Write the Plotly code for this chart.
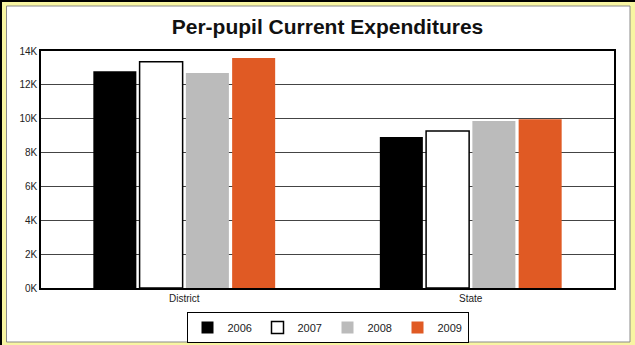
import plotly.graph_objects as go

categories = ["District", "State"]
years = ["2006", "2007", "2008", "2009"]
values_2006 = [12800, 8920]
values_2007 = [13370, 9280]
values_2008 = [12700, 9860]
values_2009 = [13590, 9970]
tick_values = [0, 2000, 4000, 6000, 8000, 10000, 12000, 14000]
tick_labels = ["0K", "2K", "4K", "6K", "8K", "10K", "12K", "14K"]

series = [values_2006, values_2007, values_2008, values_2009]
fills = ["#000000", "#ffffff", "#bbbbbb", "#e05a24"]
outlines = ["#000000", "#000000", "#bbbbbb", "#e05a24"]
outline_w = [0, 1.5, 0, 0]

W, H = 635, 345
L, R, T, B = 41, 21, 51, 0
AXIS_BOTTOM = 288
pw, ph = W - L - R, H - T - B

def px_x(p):
    return (p - L) / pw

def px_y(p):
    return (H - B - p) / ph

fig = go.Figure()
for name, vals, fc, lc, lw in zip(years, series, fills, outlines, outline_w):
    fig.add_trace(go.Bar(
        x=categories, y=vals, name=name,
        marker=dict(color=fc, line=dict(color=lc, width=lw)),
    ))

shapes = [
    dict(type="rect", xref="paper", yref="paper", layer="below",
         x0=px_x(6.5), x1=px_x(630), y0=px_y(342), y1=px_y(6),
         fillcolor="#ffffff", line=dict(color="#8a8a8a", width=1)),
    dict(type="line", xref="paper", yref="paper", layer="below",
         x0=px_x(0), x1=px_x(635), y0=px_y(1), y1=px_y(1),
         line=dict(color="#000000", width=2)),
    dict(type="line", xref="paper", yref="paper", layer="below",
         x0=px_x(1), x1=px_x(1), y0=px_y(0), y1=px_y(345),
         line=dict(color="#000000", width=2)),
]

fig.update_layout(
    width=W, height=H,
    margin=dict(l=L, r=R, t=T, b=B, pad=0),
    paper_bgcolor="#f8f5a2",
    plot_bgcolor="#ffffff",
    font=dict(family="Liberation Sans, Arial, sans-serif", color="#222222", size=10),
    title=dict(text="<b>Per-pupil Current Expenditures</b>", x=0.5, xref="paper",
               xanchor="center", y=1 - 27 / H, yanchor="middle",
               font=dict(size=21, color="#111111")),
    barmode="group", bargap=0.354, bargroupgap=0.07,
    shapes=shapes,
    showlegend=True,
    legend=dict(orientation="h", x=0.5, xanchor="center", xref="paper",
                y=px_y(312), yanchor="top", yref="paper",
                bgcolor="#ffffff", bordercolor="#000000", borderwidth=1,
                font=dict(size=11, color="#222222"), traceorder="normal",
                entrywidth=25, entrywidthmode="pixels", itemwidth=30),
)
fig.update_xaxes(showline=True, linecolor="#000000", linewidth=1.5, mirror=True,
                 ticks="", showgrid=False, tickfont=dict(size=10), automargin=False)
fig.update_yaxes(range=[0, 14000], tickvals=tick_values, ticktext=tick_labels,
                 domain=[px_y(AXIS_BOTTOM), 1],
                 showline=True, linecolor="#000000", linewidth=1.5, mirror=True,
                 showgrid=True, gridcolor="#444444", gridwidth=1, ticks="",
                 zeroline=False, tickfont=dict(size=10), automargin=False)

fig.write_html("out.html", config={"displayModeBar": False},
               post_script="document.body.style.margin='0';document.body.style.overflow='hidden';")
